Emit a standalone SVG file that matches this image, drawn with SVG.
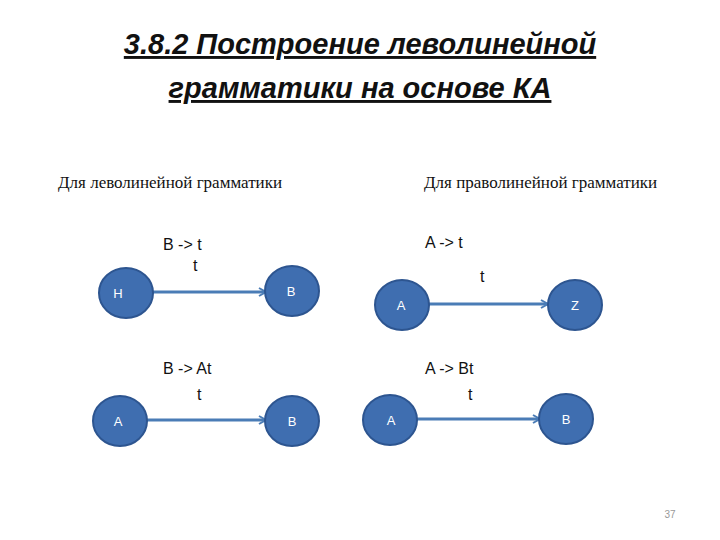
<svg xmlns="http://www.w3.org/2000/svg" width="720" height="540" viewBox="0 0 720 540">
<style>
.t{font-family:"Liberation Sans",Arial,sans-serif;font-style:italic;font-weight:bold;font-size:29px;fill:#111;text-decoration:underline;text-anchor:middle}
.h{font-family:"Liberation Serif","Times New Roman",serif;font-size:17px;fill:#111}
.n{fill:#3f6eb0;stroke:#2d5590;stroke-width:2}
.nl{font-family:"Liberation Sans",Arial,sans-serif;font-size:13px;fill:#fff;text-anchor:middle}
.e{stroke:#4a7cb6;stroke-width:3;fill:none}
.l{font-family:"Liberation Sans",Arial,sans-serif;font-size:16px;fill:#111}
</style>
<defs><marker id="a" markerWidth="10" markerHeight="10" refX="8" refY="5" orient="auto" markerUnits="userSpaceOnUse"><path d="M1,1 L8,5 L1,9" fill="none" stroke="#4a7cb6" stroke-width="2"/></marker></defs>
<rect width="720" height="540" fill="#fff"/>
<text class="t" x="360" y="54">3.8.2 Построение леволинейной</text>
<text class="t" x="360" y="98">грамматики на основе КА</text>
<text class="h" x="58" y="188">Для леволинейной грамматики</text>
<text class="h" x="424" y="188">Для праволинейной грамматики</text>
<g id="connectors">
<line class="e" x1="153" y1="292" x2="266" y2="292" marker-end="url(#a)"/>
<line class="e" x1="428" y1="304" x2="548" y2="304" marker-end="url(#a)"/>
<line class="e" x1="147" y1="420" x2="266" y2="420" marker-end="url(#a)"/>
<line class="e" x1="417" y1="419" x2="540" y2="419" marker-end="url(#a)"/>
</g>
<text class="l" x="163" y="250">B -&gt; t</text><text class="l" x="193" y="271">t</text>
<text class="l" x="425" y="248">A -&gt; t</text><text class="l" x="480" y="282">t</text>
<text class="l" x="163" y="374">B -&gt; At</text><text class="l" x="197" y="400">t</text>
<text class="l" x="425" y="374">A -&gt; Bt</text><text class="l" x="468" y="400">t</text>
<g id="n1"><ellipse class="n" cx="126" cy="293" rx="27" ry="25"/><text class="nl" x="118" y="298">H</text></g>
<g id="n2"><ellipse class="n" cx="292" cy="291" rx="27" ry="25"/><text class="nl" x="291" y="296">B</text></g>
<g id="n3"><ellipse class="n" cx="402" cy="305" rx="27" ry="25"/><text class="nl" x="401" y="310">A</text></g>
<g id="n4"><ellipse class="n" cx="575" cy="305" rx="27" ry="25"/><text class="nl" x="575" y="310">Z</text></g>
<g id="n5"><ellipse class="n" cx="120" cy="421" rx="27" ry="25"/><text class="nl" x="118" y="426">A</text></g>
<g id="n6"><ellipse class="n" cx="292" cy="421" rx="27" ry="25"/><text class="nl" x="292" y="426">B</text></g>
<g id="n7"><ellipse class="n" cx="390" cy="420" rx="27" ry="25"/><text class="nl" x="391" y="425">A</text></g>
<g id="n8"><ellipse class="n" cx="566" cy="419" rx="27" ry="25"/><text class="nl" x="566" y="424">B</text></g>
<text x="670" y="518" font-family="Liberation Sans,Arial,sans-serif" font-size="10" fill="#999" text-anchor="middle">37</text>
</svg>
